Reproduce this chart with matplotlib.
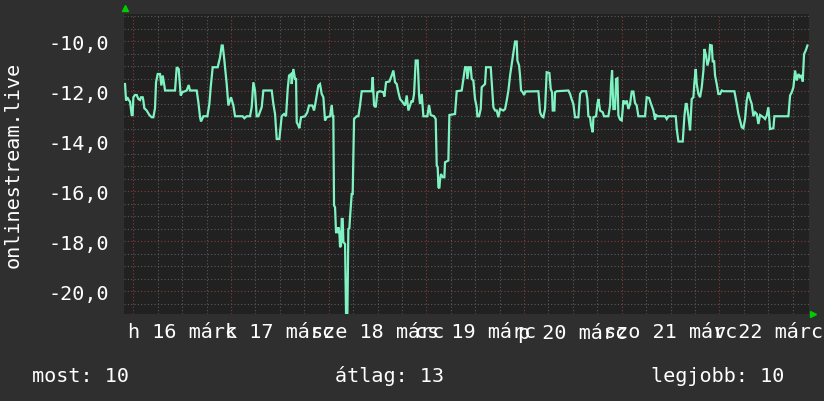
import numpy as np
import matplotlib
matplotlib.use("Agg")
import matplotlib.pyplot as plt

# ---- data: hours since midnight 16 March, value ----
hours = [
    -2.04, -1.79, -1.47, -1.06, -0.81, -0.40, -0.16, 0.01, 0.42, 0.83, 1.24, 1.65, 1.89, 2.30, 2.46, 2.71,
    3.28, 3.94, 4.51, 4.92, 5.33, 5.58, 5.99, 6.56, 6.89, 7.22, 7.62, 7.79, 10.25, 10.66, 11.15, 11.64,
    12.05, 13.11, 13.60, 13.93, 15.57, 15.98, 16.39, 16.63, 17.21, 18.19, 18.68, 19.01, 19.50, 20.73,
    21.30, 21.71, 21.96, 22.29, 22.94, 23.35, 24.0, 24.58, 24.99, 26.87, 27.28, 27.85, 28.67, 29.08,
    29.49, 29.90, 30.31, 30.72, 31.54, 31.95, 34.0, 34.41, 34.82, 35.23, 35.88, 36.45, 37.03, 37.52,
    37.93, 38.26,
    38.75, 38.91, 39.32, 39.73, 39.98, 40.14, 40.55, 40.79, 41.20, 42.19, 42.75, 43.17, 43.99, 44.40,
    44.64, 45.05, 45.46, 45.87, 46.28, 46.69, 47.10, 47.51, 48.33, 48.74, 48.98, 49.14,
    49.31, 49.56, 49.80, 50.21, 50.38, 50.62, 50.79, 51.03, 51.20, 51.44, 51.61, 52.02, 52.26, 52.59,
    52.83, 53.08, 53.24, 53.65, 53.89, 54.23, 54.88, 55.29, 55.70, 56.11, 58.57, 58.81, 59.14, 59.55,
    59.96, 60.61, 61.43, 61.68, 62.09, 62.91, 63.48, 63.89, 64.30, 64.71, 65.12, 65.53, 66.18, 66.76,
    67.17, 67.58, 67.98, 68.39, 68.64, 68.97, 69.38, 69.87, 70.20, 70.44, 70.85, 71.26, 72.24, 72.65,
    73.06, 73.88, 74.29, 74.54, 74.78, 74.95, 75.19, 75.36, 75.60, 76.01, 76.42, 76.58, 77.40, 77.65,
    79.04, 79.45, 80.68,
    81.50, 81.91, 82.07, 82.48, 82.89, 83.14, 83.54, 83.95, 84.36, 84.53, 84.94, 85.35, 85.59, 86.17,
    86.41, 86.66, 87.81, 88.05, 88.46, 88.87, 89.28, 89.69, 90.10, 90.92, 91.33, 91.74, 92.15, 92.56,
    92.97, 93.37, 93.78, 94.19, 94.36, 94.77, 95.01, 95.26, 95.67, 96.0, 96.32, 99.52, 99.93, 100.34,
    100.74, 101.15, 101.40, 101.56, 102.22, 102.55, 102.87, 103.04, 103.45, 103.61, 104.02, 106.89,
    107.30, 107.71, 108.11, 108.52, 109.34, 109.75, 110.16, 111.23, 111.56, 111.80, 112.21, 112.46,
    112.87, 113.03, 113.69, 114.01, 114.26, 114.67, 115.32, 115.65, 116.71, 117.13, 117.37, 117.62,
    117.94, 118.35, 118.60, 118.93, 119.17, 119.58, 119.99, 120.40, 120.81, 121.22, 121.63, 122.04,
    122.45, 122.85, 123.26, 123.67,
    124.08, 125.72, 126.13, 126.71, 127.20, 127.77, 128.18, 128.43, 128.84, 130.64, 131.05, 131.46,
    133.26, 133.51, 133.92, 134.98, 135.39, 135.72, 135.96, 136.37, 136.78, 137.19, 137.60, 137.85,
    138.17, 138.42, 138.83, 139.24, 139.65, 140.06, 140.30, 140.71, 141.04, 141.45, 141.70, 142.11,
    142.35, 142.68, 142.92, 143.33, 143.74, 144.15, 144.56, 144.97, 147.67, 148.25, 148.66, 149.07,
    149.48, 149.88, 150.29, 150.70, 151.11, 151.52, 151.93, 152.34, 152.75, 153.16, 153.57, 153.98,
    154.80, 155.21, 155.61, 156.02, 156.43, 157.25, 157.50, 160.94, 161.35, 161.76, 162.17, 162.58,
    162.99, 163.40, 163.80, 164.21, 164.46, 164.79, 165.20, 165.61,
]
values = [
    -11.71, -12.37, -12.24, -12.37, -12.41, -12.95, -12.95, -12.24, -12.15, -12.15, -12.31, -12.35, -12.24, -12.24, -12.37, -12.68,
    -12.77, -12.95, -13.04, -13.04, -12.68, -11.64, -11.31, -11.31, -11.77, -11.37, -11.77, -11.97, -11.97, -11.04, -11.11, -12.17,
    -12.04, -11.97, -11.75, -11.97, -11.97, -12.44, -13.04, -13.21, -13.0, -13.0, -12.51, -11.84, -11.04, -11.04,
    -10.64, -10.17, -10.17, -10.64, -11.71, -12.57, -12.24, -12.57, -13.0, -13.0, -13.08, -13.0, -13.0, -12.64,
    -11.64, -11.97, -13.0, -13.0, -12.64, -11.97, -11.97, -12.51, -12.91, -13.91, -13.91, -13.0, -12.91, -13.0,
    -11.91, -11.37,
    -11.31, -11.71, -11.11, -11.51, -11.51, -13.24, -13.37, -13.48, -13.04, -13.0, -12.84, -12.57, -12.57, -12.77,
    -12.57, -12.17, -11.77, -11.71, -12.11, -12.24, -13.17, -13.04, -13.0, -12.55, -13.0, -13.0,
    -16.57, -16.64, -17.64, -17.64, -17.44, -17.64, -18.24, -18.17, -17.11, -17.11, -18.04, -18.11, -20.91, -20.91,
    -17.51, -17.48, -17.04, -16.11, -16.11, -13.11, -13.0, -13.0, -12.57, -12.0, -12.0, -11.44, -12.57, -12.64,
    -12.04, -12.0, -12.04, -12.21, -11.64, -11.61, -11.37, -11.17, -11.64, -11.71, -12.04, -12.31, -12.44, -12.57,
    -12.17, -12.77, -12.57, -12.37, -12.44, -12.11, -10.77, -10.77, -12.17, -12.51, -12.11, -13.0, -13.0, -12.55,
    -12.95, -13.0, -13.11, -14.97, -15.04, -15.84, -15.88, -15.51, -15.31, -15.44, -15.44, -14.84, -14.77, -12.95,
    -12.91, -12.0, -11.97,
    -11.04, -11.04, -11.51, -11.04, -11.04, -11.51, -11.57, -12.31, -12.64, -13.0, -13.0, -12.71, -11.84, -11.75,
    -11.71, -11.04, -11.04, -11.64, -12.64, -12.77, -12.77, -13.04, -12.71, -12.77, -12.71, -12.37, -11.97, -11.37,
    -10.91, -10.44, -10.01, -10.01, -10.77, -10.97, -11.37, -11.97, -12.04, -12.15, -12.01, -12.0, -12.84, -13.0,
    -13.04, -12.71, -11.84, -11.24, -11.27, -11.91, -12.04, -12.77, -12.77, -12.04, -12.0, -11.97,
    -12.11, -12.33, -12.51, -13.04, -13.04, -12.11, -12.0, -12.0, -12.31, -13.0, -13.04, -13.37,
    -13.64, -13.04, -13.0, -12.51, -12.31, -12.77, -12.84, -13.0, -13.0, -12.57, -11.71, -11.17,
    -12.71, -12.71, -11.51, -11.48, -12.97, -13.13, -13.17, -12.37, -12.51, -12.37, -12.71, -12.51,
    -12.01, -12.01, -12.47, -12.57,
    -13.0, -13.0, -12.24, -12.27, -12.51, -12.77, -13.13, -12.95, -13.0, -13.0, -13.11, -13.0,
    -13.0, -13.51, -14.01, -14.01, -13.0, -12.51, -12.51, -13.0, -13.57, -12.31, -12.24, -11.64,
    -11.11, -11.71, -12.11, -12.24, -11.84, -11.17, -10.31, -10.57, -10.97, -10.71, -10.15, -10.17,
    -10.84, -10.77, -11.37, -11.71, -12.11, -12.11, -11.97, -12.0, -12.0, -12.51, -12.91, -13.17,
    -13.44, -13.48, -13.11, -12.37, -12.04, -12.31, -12.51, -13.0, -12.84, -12.91, -13.31, -12.95,
    -13.04, -13.11, -12.97, -12.64, -13.51, -13.48, -13.0, -13.0, -12.17, -12.04, -11.84, -11.17,
    -11.57, -11.31, -11.44, -11.35, -11.61, -10.51, -10.37, -10.17,
]

day_labels = ["h 16 márc", "k 17 márc", "sze 18 márc", "cs 19 márc",
              "p 20 márc", "szo 21 márc", "v 22 márc"]
y_ticks = [-20, -18, -16, -14, -12, -10]
y_label = "onlinestream.live"
legend_items = [("most:", 10), ("átlag:", 13), ("legjobb:", 10)]

# ---- style ----
BG = "#2f2f2f"
PLOT_BG = "#212121"
LINE = "#7ff2c2"
MINOR = "#5a5a5a"
MAJOR = "#8a3a3a"
TXT = "#ffffff"
FONT = "DejaVu Sans Mono"
FS = 14.5

W, H = 824, 402
fig = plt.figure(figsize=(W / 100, H / 100), dpi=100, facecolor=BG)
L, R, T, B = 124, 809, 15, 315
ax = fig.add_axes([L / W, 1 - B / H, (R - L) / W, (B - T) / H], facecolor=PLOT_BG)

xmin, xmax = -2.29, 166.0
ymin, ymax = -20.91, -8.91
ax.set_xlim(xmin, xmax)
ax.set_ylim(ymin, ymax)

dots = (0, (1, 2))
for yv in np.arange(-20.5, -8.9, 0.5):
    major = abs(yv / 2 - round(yv / 2)) < 1e-6
    ax.axhline(yv, color=MAJOR if major else MINOR, lw=0.8, ls=dots, zorder=1)
for xv in np.arange(0, 168, 6):
    major = xv % 24 == 0
    ax.axvline(xv, color=MAJOR if major else MINOR, lw=0.8, ls=dots, zorder=1)

ax.plot(hours, values, color=LINE, lw=1.6, zorder=3, solid_joinstyle="miter")

for s in ax.spines.values():
    s.set_visible(False)

ax.set_yticks(y_ticks)
ax.set_yticklabels([f"{v:.1f}".replace(".", ",") for v in y_ticks])
ax.set_xticks([12 + 24 * i for i in range(len(day_labels))])
ax.set_xticklabels(day_labels)
ax.tick_params(axis="both", length=0, colors=TXT, labelsize=FS)
ax.tick_params(axis="y", pad=10.5)
ax.tick_params(axis="x", pad=6)
for lab in ax.get_xticklabels() + ax.get_yticklabels():
    lab.set_fontfamily(FONT)

fig.text(13 / W, 1 - 165 / H, y_label, rotation=90, ha="center", va="center",
         color=TXT, fontsize=FS, fontfamily=FONT)

leg_x = [32, 335, 651]
for (name, val), lx in zip(legend_items, leg_x):
    fig.text(lx / W, 1 - 382 / H, f"{name} {val}", ha="left", va="baseline",
             color=TXT, fontsize=FS, fontfamily=FONT)

# rrdtool-style axis arrows
ax.plot([0.0015], [1.02], marker="^", color="#00cc00", ms=4.5, transform=ax.transAxes,
        clip_on=False, zorder=5)
ax.plot([1.006], [0.0], marker=">", color="#00cc00", ms=4.5, transform=ax.transAxes,
        clip_on=False, zorder=5)

fig.savefig("out.png", dpi=100, facecolor=BG)
